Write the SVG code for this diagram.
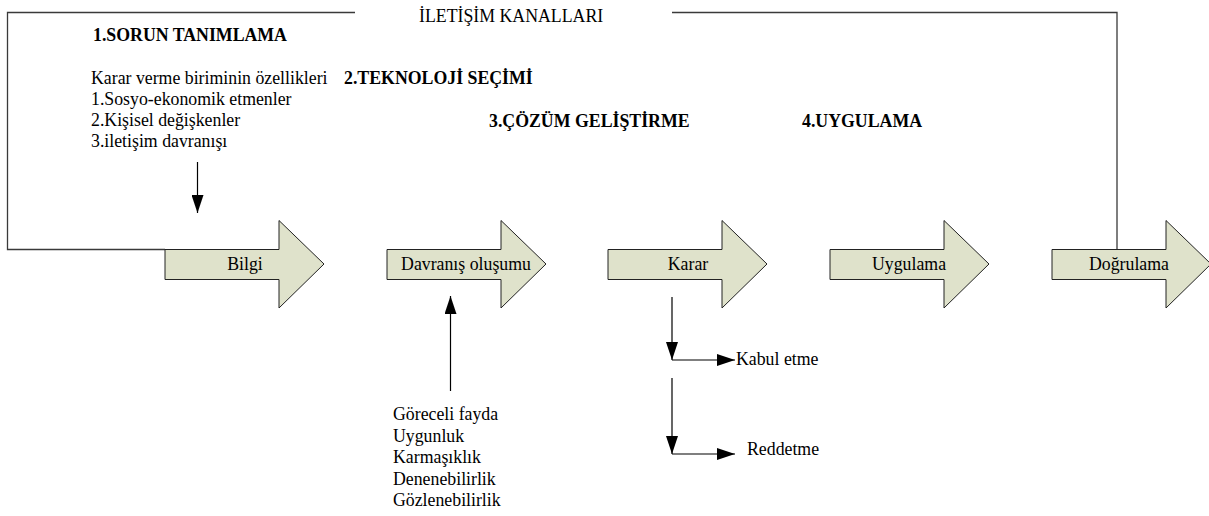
<svg xmlns="http://www.w3.org/2000/svg" xmlns:xlink="http://www.w3.org/1999/xlink" width="1209" height="516" viewBox="0 0 1209 516">
  <style>
    text { font-family: "Liberation Serif", "Times New Roman", serif; fill: #000; }
    .reg { font-size: 17.8px; }
    .bold { font-size: 17.8px; font-weight: bold; }
    .lbl { font-size: 17.8px; text-anchor: middle; }
    .block { fill: #dfe2cb; stroke: #222; stroke-width: 1; }
    .frame { fill: none; stroke: #3a3a3a; stroke-width: 1.3; }
    .link { fill: none; stroke: #000; stroke-width: 1.2; marker-end: url(#tip); }
  </style>
  <defs>
    <!-- block arrow shape: 114 px body, 45 px head -->
    <path id="blockArrow" d="M0,249.5 H114 V220.5 L159,264 L114,308 V279.5 H0 Z"/>
    <marker id="tip" markerUnits="userSpaceOnUse" markerWidth="18" markerHeight="12" refX="18" refY="6" orient="auto">
      <path d="M0,0 L18,6 L0,12 Z" fill="#000"/>
    </marker>
  </defs>

  <rect width="1209" height="516" fill="#fff"/>

  <!-- communication channel frame and flow links -->
  <g id="connectors">
    <polyline class="frame" points="355,12.5 7.5,12.5 7.5,249.5 165,249.5"/>
    <polyline class="frame" points="672,12.5 1117,12.5 1117,249.5"/>
    <line class="link" x1="197.5" y1="162" x2="197.5" y2="213"/>
    <line class="link" x1="450.5" y1="391" x2="450.5" y2="296"/>
    <line class="link" x1="672" y1="297" x2="672" y2="360"/>
    <line class="link" x1="672" y1="360" x2="735" y2="360"/>
    <line class="link" x1="672" y1="378" x2="672" y2="454"/>
    <line class="link" x1="672" y1="454" x2="735" y2="454"/>
  </g>

  <g id="channel-title">
    <text class="reg" x="419" y="21.5">İLETİŞİM KANALLARI</text>
  </g>

  <g id="stage-headings">
    <text class="bold" x="93" y="41">1.SORUN TANIMLAMA</text>
    <text class="bold" x="344" y="84">2.TEKNOLOJİ SEÇİMİ</text>
    <text class="bold" x="489" y="127">3.ÇÖZÜM GELİŞTİRME</text>
    <text class="bold" x="802" y="127">4.UYGULAMA</text>
  </g>

  <g id="unit-traits">
    <text class="reg" x="91" y="84">Karar verme biriminin özellikleri</text>
    <text class="reg" x="91" y="105">1.Sosyo-ekonomik etmenler</text>
    <text class="reg" x="91" y="126">2.Kişisel değişkenler</text>
    <text class="reg" x="91" y="147">3.iletişim davranışı</text>
  </g>

  <g id="node-bilgi">
    <use xlink:href="#blockArrow" href="#blockArrow" class="block" x="165"/>
    <text class="lbl" x="245" y="270">Bilgi</text>
  </g>
  <g id="node-davranis">
    <use xlink:href="#blockArrow" href="#blockArrow" class="block" x="387"/>
    <text class="lbl" x="466" y="270">Davranış oluşumu</text>
  </g>
  <g id="node-karar">
    <use xlink:href="#blockArrow" href="#blockArrow" class="block" x="608"/>
    <text class="lbl" x="688" y="270">Karar</text>
  </g>
  <g id="node-uygulama">
    <use xlink:href="#blockArrow" href="#blockArrow" class="block" x="830"/>
    <text class="lbl" x="909" y="270">Uygulama</text>
  </g>
  <g id="node-dogrulama">
    <use xlink:href="#blockArrow" href="#blockArrow" class="block" x="1052"/>
    <text class="lbl" x="1129" y="270">Doğrulama</text>
  </g>

  <g id="innovation-attributes">
    <text class="reg" x="393" y="420">Göreceli fayda</text>
    <text class="reg" x="393" y="441.5">Uygunluk</text>
    <text class="reg" x="393" y="463">Karmaşıklık</text>
    <text class="reg" x="393" y="484.5">Denenebilirlik</text>
    <text class="reg" x="393" y="506">Gözlenebilirlik</text>
  </g>

  <g id="outcomes">
    <text class="reg" x="736" y="365">Kabul etme</text>
    <text class="reg" x="747" y="455">Reddetme</text>
  </g>
</svg>
